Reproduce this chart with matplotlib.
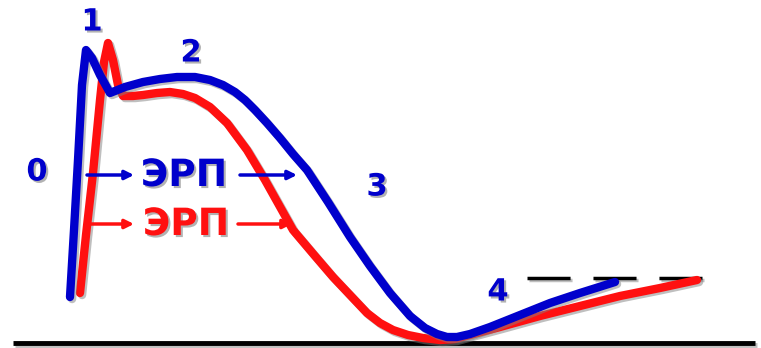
"""Action potential phases 0-4 with effective refractory period (ЭРП), two curves.

Coordinates are in image pixels (x right, y down) read off the reference.
"""
import matplotlib

matplotlib.use("Agg")
import matplotlib.pyplot as plt
import matplotlib.patheffects as pe

BLUE = "#0000cc"
RED = "#ff1010"

# blue action potential
blue_x = [70, 74, 78, 82, 86, 92, 100, 110, 125, 143, 160, 177, 195, 210, 223, 235, 245, 255,
          267, 280, 293, 307, 328, 350, 370, 390, 410, 425, 437, 447, 457, 470, 490, 520, 550,
          580, 615]
blue_y = [297, 230, 160, 85, 50, 58, 75, 93, 87, 82, 79, 77, 77, 80, 85, 92, 100, 110,
          123, 138, 154, 170, 202, 237, 266, 293, 316, 328, 334, 337, 337, 334, 327, 315, 303,
          293, 282]

# red action potential (shifted, shorter plateau)
red_x = [80, 86, 93, 100, 104, 108, 113, 118, 123, 133, 143, 157, 170, 183, 195, 210, 227, 247,
         265, 293, 315, 333, 350, 367, 380, 393, 408, 423, 440, 455, 470, 500, 540, 580, 620,
         660, 697]
red_y = [293, 235, 173, 100, 62, 43, 60, 85, 96, 96, 95, 93, 92, 94, 98, 107, 123, 150,
         180, 230, 256, 277, 295, 313, 323, 330, 335, 338, 340, 339, 335, 327, 316, 306, 296,
         288, 280]

# phase labels
phase_labels = ["0", "1", "2", "3", "4"]
phase_x = [37, 92, 191, 377, 498]
phase_y = [172, 22, 53, 187, 292]

# ЭРП arrows: (left start, left end, right start, right end, y)
erp_blue = (87, 134, 240, 297, 175)
erp_red = (90, 134, 238, 292, 224)
erp_text_x = [184, 186]

baseline_x = [13, 755]
baseline_y = 343
threshold_x = [527, 704]
threshold_y = 278

fig = plt.figure(figsize=(7.61, 3.48), dpi=100)
ax = fig.add_axes([0, 0, 1, 1])
ax.set_xlim(0, 761)
ax.set_ylim(348, 0)
ax.axis("off")

line_shadow = [pe.SimpleLineShadow(offset=(1.5, -1.5), shadow_color="gray", alpha=0.5), pe.Normal()]
text_shadow = [pe.withSimplePatchShadow(offset=(1.5, -1.5), shadow_rgbFace="gray", alpha=0.6)]

ax.plot(baseline_x, [baseline_y] * 2, color="black", lw=3.5, solid_capstyle="butt",
        path_effects=line_shadow)
ax.plot(threshold_x, [threshold_y] * 2, color="black", lw=2.5, dashes=(12.4, 6.6),
        dash_capstyle="butt", path_effects=line_shadow)

ax.plot(red_x, red_y, color=RED, lw=6, solid_joinstyle="round", solid_capstyle="round",
        path_effects=line_shadow, zorder=3)
ax.plot(blue_x, blue_y, color=BLUE, lw=6, solid_joinstyle="round", solid_capstyle="round",
        path_effects=line_shadow, zorder=4)

for lab, x, y in zip(phase_labels, phase_x, phase_y):
    ax.text(x, y, lab, color=BLUE, fontsize=22, fontweight="bold", family="DejaVu Sans",
            ha="center", va="center", path_effects=text_shadow)

for (x0, x1, x2, x3, y), tx, col in zip([erp_blue, erp_red], erp_text_x, [BLUE, RED]):
    for a, b in [(x0, x1), (x2, x3)]:
        ax.annotate("", xy=(b, y), xytext=(a, y),
                    arrowprops=dict(arrowstyle="-|>", color=col, lw=2.5, mutation_scale=13,
                                    shrinkA=0, shrinkB=0), zorder=5)
    ax.text(tx, y + 1, "ЭРП", color=col, fontsize=27, fontweight="bold", family="DejaVu Sans",
            ha="center", va="center", path_effects=text_shadow, zorder=5)

fig.savefig("out.png", dpi=100)
